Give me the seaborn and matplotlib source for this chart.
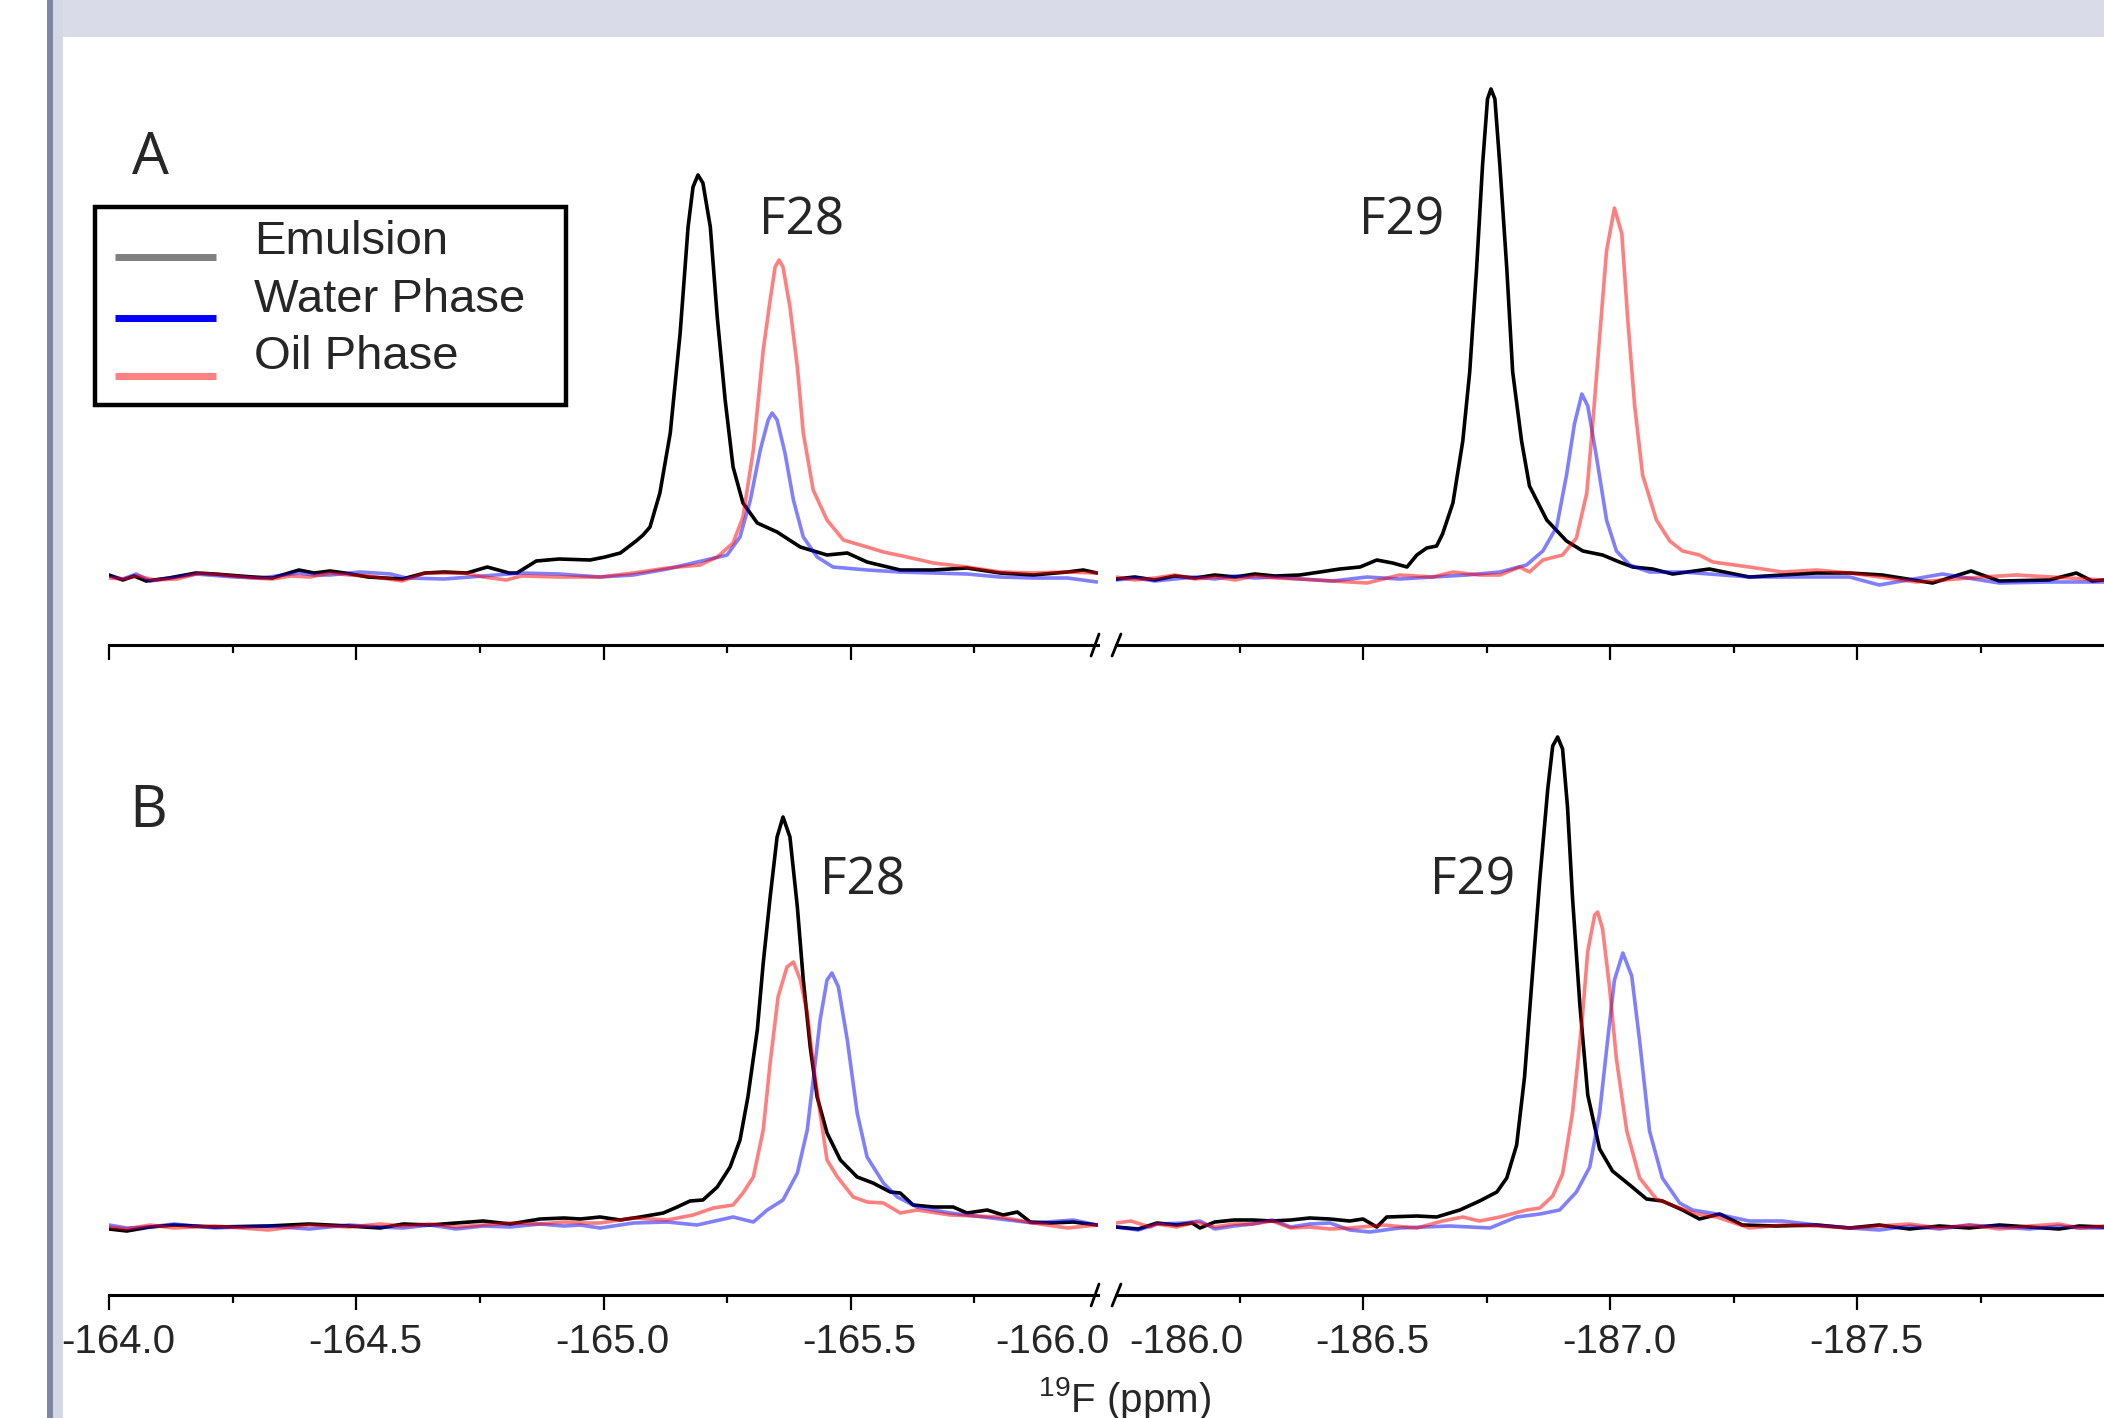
import matplotlib
matplotlib.use("Agg")
import pandas as pd
import seaborn as sns
import matplotlib.pyplot as plt
from matplotlib import font_manager
from matplotlib.patches import Rectangle
from matplotlib.lines import Line2D
from matplotlib.transforms import ScaledTranslation

# 19F spectra, (ppm, intensity) pairs, baseline = 0
a_emulsion = [
    (-164.000, 2), (-164.028, -3), (-164.051, 1), (-164.075, -4), (-164.121, -1), (-164.176, 4),
    (-164.214, 3), (-164.291, 0), (-164.330, -1), (-164.384, 7), (-164.415, 4), (-164.447, 6),
    (-164.477, 4), (-164.524, 0), (-164.593, -2), (-164.639, 4), (-164.678, 5), (-164.724, 4),
    (-164.765, 10), (-164.809, 4), (-164.825, 4), (-164.864, 16), (-164.910, 18), (-164.973, 17),
    (-165.003, 20), (-165.034, 24), (-165.066, 36), (-165.080, 42), (-165.094, 50), (-165.114, 84),
    (-165.135, 144), (-165.155, 244), (-165.171, 350), (-165.181, 390), (-165.191, 402), (-165.201, 394),
    (-165.216, 350), (-165.230, 260), (-165.246, 177), (-165.262, 110), (-165.282, 74), (-165.311, 54),
    (-165.351, 45), (-165.398, 30), (-165.452, 22), (-165.493, 24), (-165.533, 15), (-165.600, 7),
    (-165.667, 7), (-165.735, 9), (-165.802, 4), (-165.869, 2), (-165.938, 5), (-165.970, 7), (-165.998, 4),
    (-186.000, -2), (-186.038, 0), (-186.079, -3), (-186.119, 1), (-186.160, -1), (-186.200, 2),
    (-186.241, 0), (-186.281, 3), (-186.322, 1), (-186.372, 2), (-186.413, 5), (-186.453, 8),
    (-186.494, 10), (-186.528, 17), (-186.560, 14), (-186.589, 10), (-186.609, 22), (-186.629, 29),
    (-186.649, 31), (-186.661, 43), (-186.682, 74), (-186.702, 136), (-186.716, 205), (-186.730, 309),
    (-186.742, 412), (-186.752, 478), (-186.759, 488), (-186.767, 478), (-186.777, 412), (-186.791, 309),
    (-186.803, 205), (-186.821, 136), (-186.837, 91), (-186.872, 57), (-186.912, 36), (-186.945, 26),
    (-186.985, 22), (-187.019, 15), (-187.046, 10), (-187.086, 8), (-187.127, 3), (-187.201, 8),
    (-187.282, 0), (-187.418, 4), (-187.485, 4), (-187.551, 2), (-187.653, -6), (-187.731, 6),
    (-187.788, -4), (-187.889, -3), (-187.944, 4), (-187.976, -4), (-188.000, -3),
]
a_water = [
    (-164.000, 1), (-164.028, -2), (-164.055, 3), (-164.083, -4), (-164.176, 3), (-164.253, 0),
    (-164.308, -1), (-164.384, 4), (-164.415, 2), (-164.447, 2), (-164.508, 5), (-164.570, 3),
    (-164.601, -1), (-164.678, -2), (-164.757, 1), (-164.834, 4), (-164.910, 3), (-164.993, 0),
    (-165.060, 2), (-165.129, 8), (-165.181, 14), (-165.250, 22), (-165.276, 40), (-165.297, 77),
    (-165.317, 127), (-165.333, 157), (-165.341, 164), (-165.351, 157), (-165.367, 124), (-165.384, 77),
    (-165.404, 40), (-165.432, 20), (-165.464, 10), (-165.533, 7), (-165.600, 5), (-165.667, 4),
    (-165.735, 3), (-165.802, 0), (-165.869, -1), (-165.938, -1), (-165.998, -5),
    (-186.000, -3), (-186.038, -1), (-186.079, -4), (-186.119, -2), (-186.160, 0), (-186.200, -2),
    (-186.241, 1), (-186.281, -1), (-186.322, 0), (-186.372, -2), (-186.439, -4), (-186.508, 0),
    (-186.574, -2), (-186.641, 0), (-186.710, 2), (-186.777, 5), (-186.831, 12), (-186.864, 26),
    (-186.892, 50), (-186.912, 102), (-186.928, 153), (-186.943, 183), (-186.955, 171), (-186.973, 119),
    (-186.993, 57), (-187.013, 26), (-187.040, 12), (-187.080, 5), (-187.147, 5), (-187.282, 0),
    (-187.384, 0), (-187.485, 0), (-187.545, -8), (-187.673, 3), (-187.788, -6), (-187.889, -5),
    (-188.000, -5),
]
a_oil = [
    (-164.000, -1), (-164.028, -2), (-164.059, 1), (-164.091, -3), (-164.138, -2), (-164.184, 4),
    (-164.229, 2), (-164.291, -1), (-164.330, -2), (-164.368, 1), (-164.407, 0), (-164.447, 4),
    (-164.485, 2), (-164.524, 1), (-164.593, -4), (-164.639, 4), (-164.718, 4), (-164.757, 0),
    (-164.803, -3), (-164.834, 1), (-164.910, 0), (-164.993, 0), (-165.060, 4), (-165.129, 9),
    (-165.195, 12), (-165.230, 20), (-165.262, 34), (-165.282, 60), (-165.303, 127), (-165.323, 227),
    (-165.337, 277), (-165.347, 310), (-165.355, 317), (-165.363, 310), (-165.377, 270), (-165.392, 210),
    (-165.404, 144), (-165.424, 87), (-165.452, 57), (-165.485, 37), (-165.533, 30), (-165.566, 25),
    (-165.614, 20), (-165.667, 14), (-165.735, 10), (-165.802, 5), (-165.869, 4), (-165.938, 5),
    (-165.998, 4),
    (-186.000, 0), (-186.038, -3), (-186.079, -1), (-186.119, 2), (-186.160, -2), (-186.200, 0),
    (-186.241, -3), (-186.281, 1), (-186.322, -1), (-186.372, -2), (-186.439, -4), (-186.508, -6),
    (-186.574, 2), (-186.641, 0), (-186.682, 5), (-186.736, 2), (-186.777, 2), (-186.817, 10),
    (-186.837, 5), (-186.864, 17), (-186.904, 22), (-186.932, 39), (-186.953, 84), (-186.965, 153),
    (-186.979, 240), (-186.993, 326), (-187.009, 369), (-187.024, 343), (-187.036, 257), (-187.050, 171),
    (-187.066, 102), (-187.094, 57), (-187.121, 36), (-187.147, 26), (-187.181, 22), (-187.208, 15),
    (-187.282, 10), (-187.349, 5), (-187.418, 7), (-187.485, 4), (-187.620, -5), (-187.754, 0),
    (-187.822, 2), (-188.000, -3),
]
b_emulsion = [
    (-164.000, -2), (-164.036, -4), (-164.083, 0), (-164.131, 2), (-164.214, 0), (-164.322, 1),
    (-164.405, 3), (-164.485, 1), (-164.548, -1), (-164.595, 3), (-164.649, 2), (-164.702, 4),
    (-164.757, 6), (-164.811, 3), (-164.872, 8), (-164.920, 9), (-164.953, 8), (-164.993, 10),
    (-165.034, 7), (-165.074, 10), (-165.121, 14), (-165.149, 20), (-165.175, 26), (-165.201, 27),
    (-165.230, 40), (-165.256, 60), (-165.276, 87), (-165.292, 130), (-165.311, 197), (-165.323, 264),
    (-165.337, 330), (-165.351, 390), (-165.363, 410), (-165.377, 390), (-165.392, 320), (-165.404, 247),
    (-165.418, 180), (-165.432, 130), (-165.452, 94), (-165.479, 67), (-165.513, 50), (-165.545, 44),
    (-165.580, 35), (-165.600, 34), (-165.626, 22), (-165.667, 20), (-165.707, 20), (-165.735, 14),
    (-165.776, 17), (-165.808, 12), (-165.837, 15), (-165.863, 5), (-165.903, 4), (-165.950, 5),
    (-165.998, 2),
    (-186.000, 0), (-186.045, -2), (-186.083, 4), (-186.123, 2), (-186.154, 4), (-186.170, -1),
    (-186.200, 5), (-186.239, 7), (-186.277, 7), (-186.316, 6), (-186.354, 7), (-186.392, 9),
    (-186.433, 8), (-186.473, 6), (-186.500, 8), (-186.528, 0), (-186.548, 10), (-186.609, 11),
    (-186.649, 10), (-186.696, 17), (-186.736, 26), (-186.771, 35), (-186.791, 49), (-186.811, 82),
    (-186.827, 150), (-186.841, 240), (-186.858, 348), (-186.874, 438), (-186.884, 481), (-186.894, 490),
    (-186.904, 478), (-186.914, 420), (-186.924, 330), (-186.939, 222), (-186.955, 132), (-186.979, 78),
    (-187.005, 56), (-187.040, 42), (-187.074, 28), (-187.106, 26), (-187.147, 17), (-187.181, 8),
    (-187.222, 13), (-187.268, 2), (-187.337, 1), (-187.418, 2), (-187.485, -1), (-187.545, 2),
    (-187.606, -2), (-187.667, 1), (-187.727, -1), (-187.788, 2), (-187.849, 0), (-187.909, -2),
    (-187.950, 1), (-188.000, 0),
]
b_water = [
    (-164.000, 2), (-164.036, -1), (-164.083, 0), (-164.131, 3), (-164.214, -1), (-164.322, 1),
    (-164.405, -2), (-164.485, 2), (-164.548, 0), (-164.595, -1), (-164.649, 2), (-164.702, -2),
    (-164.757, 1), (-164.811, 0), (-164.872, 3), (-164.920, 1), (-164.953, 2), (-164.993, -1),
    (-165.060, 4), (-165.129, 5), (-165.189, 2), (-165.262, 10), (-165.303, 5), (-165.331, 17),
    (-165.363, 27), (-165.392, 54), (-165.412, 97), (-165.424, 147), (-165.438, 207), (-165.452, 247),
    (-165.462, 254), (-165.475, 240), (-165.493, 187), (-165.513, 114), (-165.533, 70), (-165.566, 44),
    (-165.594, 30), (-165.634, 20), (-165.701, 14), (-165.768, 10), (-165.869, 4), (-165.950, 7),
    (-165.998, 2),
    (-186.000, 0), (-186.045, -3), (-186.083, 3), (-186.138, 4), (-186.170, 6), (-186.200, -2),
    (-186.239, 1), (-186.277, 3), (-186.316, 7), (-186.354, 0), (-186.392, 3), (-186.433, 4),
    (-186.473, -3), (-186.514, -5), (-186.574, -1), (-186.676, 1), (-186.757, -1), (-186.811, 10),
    (-186.858, 13), (-186.898, 17), (-186.932, 35), (-186.959, 60), (-186.979, 114), (-186.995, 186),
    (-187.009, 247), (-187.026, 274), (-187.044, 251), (-187.060, 186), (-187.080, 96), (-187.106, 49),
    (-187.141, 24), (-187.167, 17), (-187.216, 13), (-187.282, 6), (-187.349, 6), (-187.418, 2),
    (-187.485, -1), (-187.545, -3), (-187.606, 1), (-187.667, -2), (-187.727, 2), (-187.788, 0),
    (-187.849, -2), (-187.909, 1), (-187.950, -1), (-188.000, -1),
]
b_oil = [
    (-164.000, 0), (-164.036, -2), (-164.083, 2), (-164.131, -1), (-164.214, 1), (-164.322, -3),
    (-164.405, 2), (-164.485, 0), (-164.548, 3), (-164.595, 1), (-164.649, 3), (-164.702, 0),
    (-164.757, 2), (-164.811, 4), (-164.872, 3), (-164.920, 5), (-164.953, 4), (-164.993, 4),
    (-165.060, 9), (-165.129, 7), (-165.181, 12), (-165.222, 19), (-165.262, 22), (-165.282, 34),
    (-165.303, 50), (-165.323, 97), (-165.337, 164), (-165.353, 230), (-165.371, 260), (-165.384, 265),
    (-165.398, 247), (-165.412, 214), (-165.424, 164), (-165.438, 114), (-165.452, 67), (-165.473, 50),
    (-165.505, 30), (-165.533, 25), (-165.566, 24), (-165.600, 14), (-165.634, 17), (-165.701, 12),
    (-165.802, 10), (-165.869, 4), (-165.938, -1), (-165.998, 2),
    (-186.000, 4), (-186.030, 6), (-186.069, 0), (-186.083, 3), (-186.123, 0), (-186.162, 5),
    (-186.200, 0), (-186.239, 3), (-186.277, 3), (-186.316, 6), (-186.354, -1), (-186.392, 0),
    (-186.433, -2), (-186.473, -1), (-186.540, 2), (-186.609, -1), (-186.661, 6), (-186.702, 10),
    (-186.736, 6), (-186.777, 10), (-186.831, 17), (-186.858, 19), (-186.884, 31), (-186.904, 53),
    (-186.924, 114), (-186.943, 204), (-186.955, 276), (-186.969, 312), (-186.975, 315), (-186.985, 298),
    (-186.999, 240), (-187.013, 168), (-187.034, 96), (-187.060, 49), (-187.094, 28), (-187.135, 20),
    (-187.175, 13), (-187.216, 10), (-187.282, -1), (-187.349, 2), (-187.418, 1), (-187.485, -1),
    (-187.545, 1), (-187.606, 3), (-187.667, -1), (-187.727, 2), (-187.788, -2), (-187.849, 1),
    (-187.909, 3), (-187.950, -1), (-188.000, 1),
]

series_names = ["Emulsion", "Water Phase", "Oil Phase"]
panels = {
    "A": {"Emulsion": a_emulsion, "Water Phase": a_water, "Oil Phase": a_oil},
    "B": {"Emulsion": b_emulsion, "Water Phase": b_water, "Oil Phase": b_oil},
}
left_major = [-164.0, -164.5, -165.0, -165.5]
left_minor = [-164.25, -164.75, -165.25, -165.75]
right_major = [-186.5, -187.0, -187.5]
right_minor = [-186.25, -186.75, -187.25, -187.75]

line_colors = {"Emulsion": "#000000", "Water Phase": "#0000ff", "Oil Phase": "#ff0000"}
line_alpha = {"Emulsion": 1.0, "Water Phase": 0.5, "Oil Phase": 0.5}
legend_colors = ["#808080", "#0000ff", "#ff8080"]

rows = []
for panel, group in panels.items():
    for name, pts in group.items():
        for ppm, val in pts:
            rows.append((panel, name, ppm, val))
df = pd.DataFrame(rows, columns=["panel", "series", "ppm", "intensity"])

sns.set_style("white")


def has_font(name):
    try:
        font_manager.findfont(font_manager.FontProperties(family=name), fallback_to_default=False)
        return True
    except Exception:
        return False


if has_font("Liberation Sans Narrow"):
    tick_font, tick_size = "Liberation Sans Narrow", 31
else:
    tick_font, tick_size = "Liberation Sans", 29
plt.rcParams["font.family"] = [tick_font, "DejaVu Sans"]

fig = plt.figure(figsize=(21.04, 14.18), dpi=100)
fig.patch.set_facecolor("white")

# page decoration (grey band on top, bar on the left)
fig.add_artist(Rectangle((0.02519, 0.9739), 0.97481, 0.0261, transform=fig.transFigure,
                         facecolor="#d9dce8", edgecolor="none", zorder=0))
fig.add_artist(Rectangle((0.02519, 0.0), 0.00475, 1.0, transform=fig.transFigure,
                         facecolor="#d4d8e5", edgecolor="none", zorder=0))
fig.add_artist(Rectangle((0.02234, 0.0), 0.00285, 1.0, transform=fig.transFigure,
                         facecolor="#7e86a6", edgecolor="none", zorder=0))

panel_bottom = {"A": 0.54513, "B": 0.08674}
sides = {
    "left": (0.05181, 0.47006, (-164.0, -166.0), left_major, left_minor),
    "right": (0.53042, 0.46958, (-186.0, -188.0), right_major, right_minor),
}
label_shift = ScaledTranslation(6.5 / 72, 0, fig.dpi_scale_trans)
tick_len, tick_pad = 10.5, 9.5
curve_lw = 2.6

axes = {}
for panel in ["A", "B"]:
    for side, (x0, w, xr, major, minor) in sides.items():
        ax = fig.add_axes([x0, panel_bottom[panel], w, 0.41961])
        ax.patch.set_visible(False)
        sub = df[(df.panel == panel) & (df.ppm <= xr[0]) & (df.ppm >= xr[1])]
        for name in series_names:
            s = sub[sub.series == name]
            sns.lineplot(data=s, x="ppm", y="intensity", ax=ax, color=line_colors[name],
                         alpha=line_alpha[name], estimator=None, errorbar=None, legend=False)
        for ln in ax.lines:
            ln.set_linewidth(curve_lw)
            ln.set_solid_joinstyle("round")
            ln.set_solid_capstyle("round")
        ax.set_xlim(*xr)
        ax.set_ylim(-68, 527)
        ax.set_xlabel("")
        ax.set_ylabel("")
        ax.set_yticks([])
        for sp in ["top", "right", "left"]:
            ax.spines[sp].set_visible(False)
        ax.spines["bottom"].set_linewidth(2.2)
        ax.spines["bottom"].set_color("black")
        ax.set_xticks(major)
        ax.set_xticks(minor, minor=True)
        ax.tick_params(axis="x", which="major", direction="out", length=tick_len, width=1.6,
                       pad=tick_pad, bottom=True, color="black", labelsize=tick_size,
                       labelbottom=(panel == "B"))
        ax.tick_params(axis="x", which="minor", direction="out", length=5.5, width=1.6,
                       bottom=True, color="black")
        if panel == "B":
            ax.set_xticklabels([f"{t:.1f}" for t in major])
            for lab in ax.get_xticklabels():
                lab.set_transform(lab.get_transform() + label_shift)
        # axis break marks
        if side == "left":
            ax.plot([0.993, 1.001], [-0.0185, 0.0185], transform=ax.transAxes,
                    color="black", lw=2, clip_on=False)
        else:
            ax.plot([-0.004, 0.005], [-0.0185, 0.0185], transform=ax.transAxes,
                    color="black", lw=2, clip_on=False)
        axes[(panel, side)] = ax

# the two end labels next to the break
axB_l, axB_r = axes[("B", "left")], axes[("B", "right")]
axB_l.annotate("-166.0", xy=(-166.0, 0), xycoords=axB_l.get_xaxis_transform(),
               xytext=(8, -(tick_len + tick_pad)), textcoords="offset points",
               ha="right", va="top", fontsize=tick_size, fontfamily=tick_font)
axB_r.annotate("-186.0", xy=(-186.0, 0), xycoords=axB_r.get_xaxis_transform(),
               xytext=(9.4, -(tick_len + tick_pad)), textcoords="offset points",
               ha="left", va="top", fontsize=tick_size, fontfamily=tick_font)

# panel letters and peak names
big = dict(fontfamily=["Open Sans", "DejaVu Sans"], ha="center", va="baseline")
axes[("A", "left")].text(-164.083, 403, "A", fontsize=42, **big)
axes[("B", "left")].text(-164.079, 400, "B", fontsize=42, **big)
axes[("A", "left")].text(-165.400, 343, "F28", fontsize=37, **big)
axes[("A", "right")].text(-186.578, 343, "F29", fontsize=37, **big)
axes[("B", "left")].text(-165.523, 332, "F28", fontsize=37, **big)
axes[("B", "right")].text(-186.722, 332, "F29", fontsize=37, **big)

# legend box
fig.add_artist(Rectangle((0.04515, 0.71439), 0.22386, 0.13963, transform=fig.transFigure,
                         fill=False, edgecolor="black", linewidth=3.2, zorder=5))
handle_y = [0.81841, 0.77574, 0.73484]
text_y = [0.82087, 0.77997, 0.73977]
for name, col, hy, ty in zip(series_names, legend_colors, handle_y, text_y):
    fig.add_artist(Line2D([0.05466, 0.10266], [hy, hy], transform=fig.transFigure,
                          color=col, linewidth=5, solid_capstyle="butt", zorder=5))
    fig.text(0.1207, ty, name, fontsize=34, fontfamily=["Liberation Sans", "DejaVu Sans"],
             ha="left", va="baseline")

fig.text(0.5347, 0.0045, r"$^{\mathregular{19}}$F (ppm)", fontsize=tick_size,
         fontfamily=tick_font, ha="center", va="baseline")

fig.savefig("out.png", dpi=100)
